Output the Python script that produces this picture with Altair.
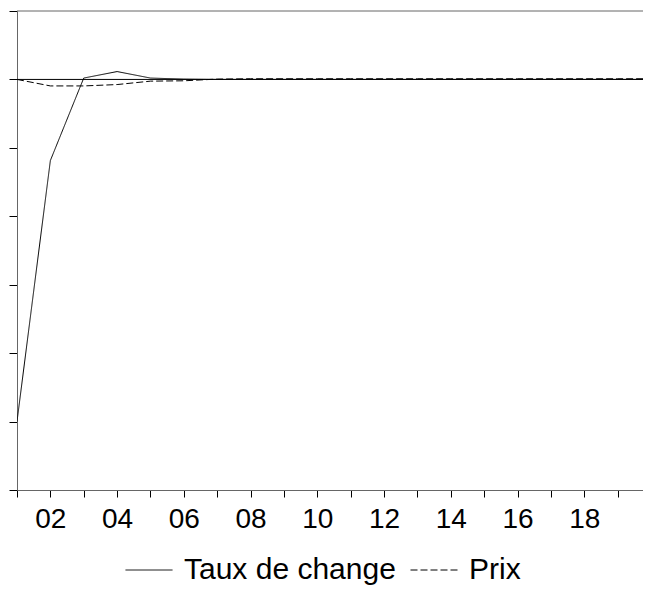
import altair as alt
import pandas as pd
import json

periods = [1, 2, 3, 4, 5, 6, 7, 8, 9, 10, 11, 12, 13, 14, 15, 16, 17, 18, 19, 20]
taux = [-1.0, -0.237, 0.004, 0.023, 0.004, 0.001, 0.0, 0.0, 0.0, 0.0,
        0.0, 0.0, 0.0, 0.0, 0.0, 0.0, 0.0, 0.0, 0.0, 0.0]
prix = [0.0, -0.019, -0.019, -0.015, -0.005, -0.004, 0.001, 0.002, 0.002, 0.002,
        0.002, 0.002, 0.002, 0.002, 0.002, 0.002, 0.002, 0.002, 0.002, 0.002]
series_names = ["Taux de change", "Prix"]
xtick_labels = ["", "02", "", "04", "", "06", "", "08", "", "10",
                "", "12", "", "14", "", "16", "", "18", "", ""]
ytick_values = [-1.2, -1.0, -0.8, -0.6, -0.4, -0.2, 0.0, 0.2]

rows = []
for p, t, q in zip(periods, taux, prix):
    rows.append({"period": p, "series": series_names[0], "value": t})
    rows.append({"period": p, "series": series_names[1], "value": q})
df = pd.DataFrame(rows)

FONT = "Liberation Sans"
label_expr = json.dumps(xtick_labels) + "[datum.value - 1]"

xscale = alt.Scale(domain=[1, 19.76], nice=False, zero=False)
yscale = alt.Scale(domain=[-1.2, 0.2], nice=False, zero=False)

refs = alt.Chart(pd.DataFrame({"z": [0.0, 0.2], "c": ["black", "#666666"]})).mark_rule(
    strokeWidth=1
).encode(
    y=alt.Y("z:Q", scale=yscale),
    color=alt.Color("c:N", scale=None),
)

lines = alt.Chart(df).mark_line(strokeWidth=1, color="black", clip=True).encode(
    x=alt.X("period:Q", scale=xscale,
            axis=alt.Axis(values=periods[:19], labelExpr=label_expr, title=None, grid=False,
                          tickSize=7, tickColor="black", domainColor="#666666",
                          labelFontSize=28, labelFont=FONT, labelColor="black",
                          labelPadding=8, labelOverlap=False, labelFlush=False)),
    y=alt.Y("value:Q", scale=yscale,
            axis=alt.Axis(values=ytick_values, labels=False, title=None, grid=False,
                          tickSize=8, tickColor="black", domainColor="#666666")),
    strokeDash=alt.StrokeDash(
        "series:N",
        scale=alt.Scale(domain=series_names, range=[[1, 0], [7, 3]]),
        legend=alt.Legend(title=None, orient="none", direction="horizontal",
                          legendX=108, legendY=535, symbolType="stroke",
                          symbolSize=2209, symbolStrokeWidth=1,
                          symbolStrokeColor="black", labelFontSize=30,
                          labelFont=FONT, labelColor="black", labelOffset=11,
                          labelLimit=400, columnPadding=12, padding=0),
    ),
    detail="series:N",
)

chart = alt.layer(refs, lines).properties(
    width=626, height=479,
    autosize=alt.AutoSizeParams(type="none"),
    padding={"left": 9, "top": 3, "right": 0, "bottom": 96},
).configure_view(stroke=None)

chart.save("out.html", embed_options={"renderer": "svg", "actions": False})
